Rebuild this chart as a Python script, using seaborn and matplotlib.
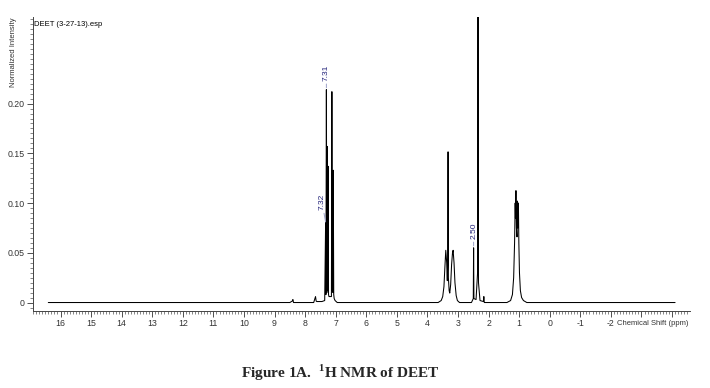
import numpy as np
import pandas as pd
import matplotlib
matplotlib.use("Agg")
import matplotlib.pyplot as plt
from matplotlib.ticker import FixedLocator, MultipleLocator
import seaborn as sns

# spectrum trace (ppm, normalized intensity)
ppm = [16.40, 8.50, 8.42, 8.40, 8.38, 7.72, 7.66, 7.64, 7.62, 7.45, 7.36,
       7.33, 7.32, 7.305, 7.29, 7.28, 7.265, 7.25, 7.235, 7.22, 7.205, 7.19,
       7.14, 7.125, 7.11, 7.10, 7.09, 7.08, 7.065, 7.05, 7.02, 6.95,
       3.65, 3.55, 3.50, 3.46, 3.43, 3.40, 3.37, 3.35, 3.335, 3.325, 3.315,
       3.29, 3.27, 3.24, 3.21, 3.18, 3.16, 3.13, 3.10, 3.06, 3.02, 2.95,
       2.56, 2.50, 2.49, 2.48, 2.41, 2.36, 2.345, 2.33, 2.28, 2.17, 2.155,
       2.14, 1.40, 1.28, 1.22, 1.18, 1.15, 1.13, 1.12, 1.105, 1.09, 1.07,
       1.055, 1.045, 1.025, 1.01, 0.99, 0.96, 0.92, 0.86, 0.75, -4.10]
intensity = [0.0, 0.0, 0.0015, 0.003, 0.0, 0.0, 0.006, 0.0015, 0.001, 0.001, 0.002,
             0.081, 0.008, 0.214, 0.010, 0.157, 0.012, 0.137, 0.008, 0.006, 0.006, 0.006,
             0.006, 0.212, 0.012, 0.110, 0.010, 0.133, 0.008, 0.004, 0.002, 0.0,
             0.0, 0.002, 0.006, 0.016, 0.035, 0.0525, 0.040, 0.022, 0.045, 0.1515, 0.025,
             0.012, 0.0095, 0.018, 0.038, 0.050, 0.0525, 0.040, 0.020, 0.007, 0.002, 0.0,
             0.0, 0.004, 0.055, 0.004, 0.003, 0.030, 0.400, 0.020, 0.002, 0.001, 0.006,
             0.0, 0.0, 0.002, 0.008, 0.025, 0.060, 0.100, 0.085, 0.1125, 0.075, 0.066,
             0.102, 0.075, 0.100, 0.060, 0.030, 0.012, 0.005, 0.002, 0.0, 0.0]

# picked peak labels
label_ppm = [7.33, 7.305, 2.49]
label_height = [0.081, 0.214, 0.055]
label_text = ["7.32", "7.31", "2.50"]

x_ticks = list(range(16, -3, -1))
y_ticks = [0, 0.05, 0.10, 0.15, 0.20]
y_tick_labels = ["0", "0.05", "0.10", "0.15", "0.20"]

df = pd.DataFrame({"ppm": ppm, "intensity": intensity})

sns.set_style("ticks")
plt.rcParams["font.family"] = ["Liberation Sans", "DejaVu Sans"]
plt.rcParams["mathtext.fontset"] = "custom"
plt.rcParams["mathtext.rm"] = "Liberation Serif"
plt.rcParams["mathtext.bf"] = "Liberation Serif:bold"

fig = plt.figure(figsize=(7.10, 3.88), dpi=100)
ax = fig.add_axes([0.0465, 0.1985, 0.925, 0.7575])

sns.lineplot(data=df, x="ppm", y="intensity", sort=False, estimator=None,
             color="black", linewidth=0.75, ax=ax)

ax.set_xlim(16.9, -4.58)
ax.set_ylim(-0.0085, 0.287)

ax.xaxis.set_major_locator(FixedLocator(x_ticks + [-3, -4]))
ax.set_xticklabels([str(t) for t in x_ticks] + ["", ""])
ax.xaxis.set_minor_locator(MultipleLocator(0.1))
ax.yaxis.set_major_locator(FixedLocator(y_ticks))
ax.set_yticklabels(y_tick_labels)
ax.yaxis.set_minor_locator(MultipleLocator(0.005))

ax.tick_params(axis="both", which="major", length=4, width=0.6, labelsize=6.3,
               colors="#333333", pad=2)
ax.tick_params(axis="both", which="minor", length=2, width=0.5, colors="#555555")

for side in ["top", "right"]:
    ax.spines[side].set_visible(False)
for side in ["left", "bottom"]:
    ax.spines[side].set_linewidth(0.7)
    ax.spines[side].set_color("#444444")

ax.set_xlabel("")
ax.set_ylabel("Normalized Intensity", fontsize=5.5, color="#333333", loc="top")
ax.yaxis.set_label_coords(-0.025, 1.0)
ax.annotate("Chemical Shift (ppm)", xy=(1.0, 0), xycoords="axes fraction",
            xytext=(-1, -9), textcoords="offset points", ha="right", va="center",
            fontsize=5.5, color="#333333")
ax.text(0.002, 0.985, "DEET (3-27-13).esp", transform=ax.transAxes, fontsize=5.5,
        color="black", ha="left", va="top")

# peak pick labels with leader lines
for p, h, t in zip(label_ppm, label_height, label_text):
    if t == "7.32":
        ax.annotate(t, xy=(p, h), xytext=(p + 0.12, h + 0.012),
                    rotation=90, ha="center", va="bottom", fontsize=6, color="#23237a",
                    arrowprops=dict(arrowstyle="-", color="#9aa0c8", lw=0.7,
                                    shrinkA=0, shrinkB=0))
    else:
        ax.annotate(t, xy=(p, h + 0.002), xytext=(p, h + 0.009),
                    rotation=90, ha="center", va="bottom", fontsize=6, color="#23237a",
                    arrowprops=dict(arrowstyle="-", color="#9aa0c8", lw=0.7,
                                    shrinkA=0, shrinkB=0))

fig.text(0.48, 1 - 373 / 388, r"Figure 1A.  $^{\mathbf{1}}$H NMR of DEET",
         ha="center", va="center", fontsize=11, fontweight="bold",
         family="Liberation Serif")

fig.savefig("out.png", dpi=100)
